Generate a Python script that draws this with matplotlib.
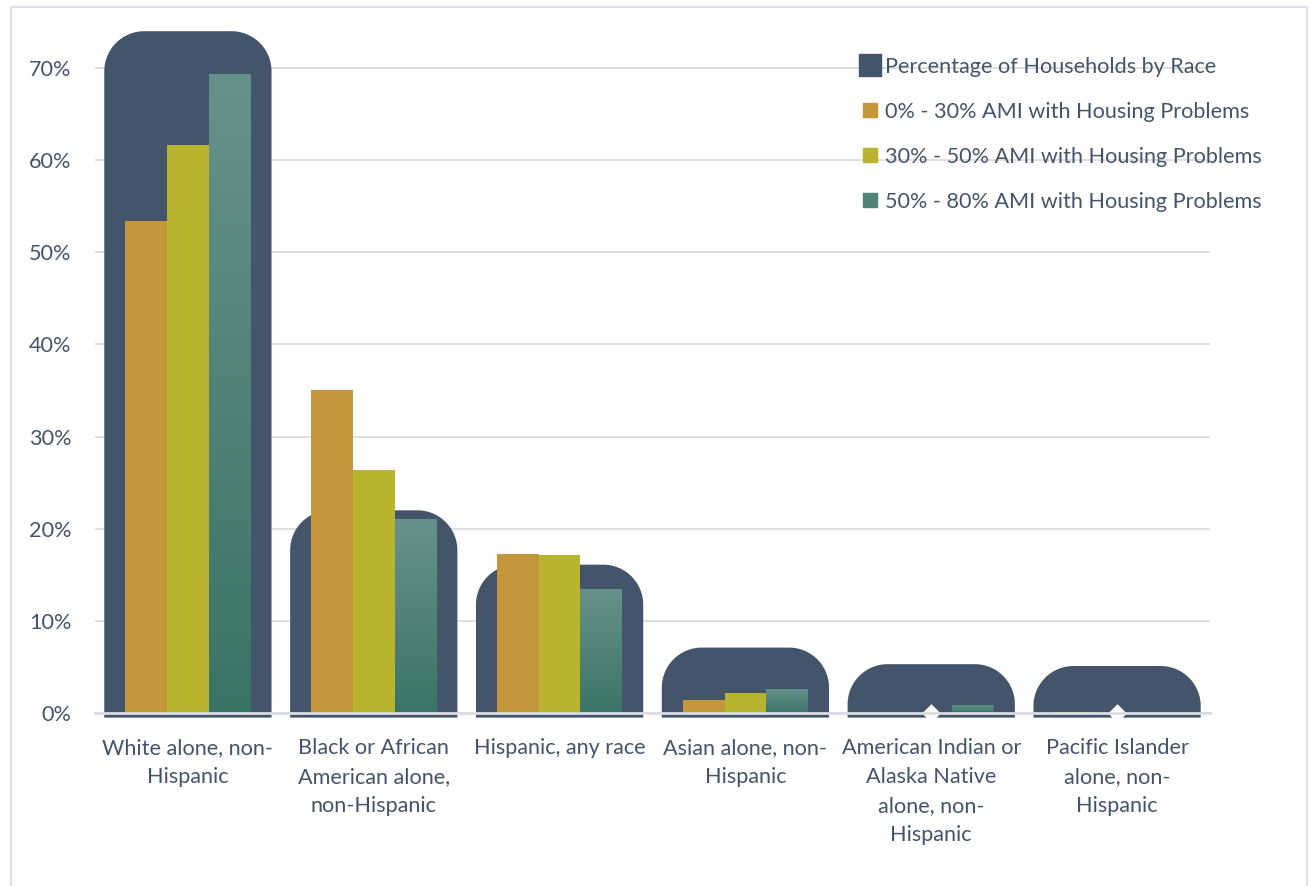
import numpy as np
import matplotlib.pyplot as plt
from matplotlib.patches import Polygon, Rectangle
from matplotlib.lines import Line2D
from matplotlib.colors import LinearSegmentedColormap

plt.rcParams['font.family'] = ['Lato', 'DejaVu Sans']

# Households with housing problems by race (percent)
races = ["White alone, non-\nHispanic",
         "Black or African\nAmerican alone,\nnon-Hispanic",
         "Hispanic, any race",
         "Asian alone, non-\nHispanic",
         "American Indian or\nAlaska Native\nalone, non-\nHispanic",
         "Pacific Islander\nalone, non-\nHispanic"]
share_households = [74.0, 22.0, 16.1, 7.1, 5.3, 5.1]
ami_0_30 = [53.4, 35.1, 17.3, 1.4, 0.0, 0.1]
ami_30_50 = [61.6, 26.4, 17.2, 2.2, 0.0, 0.0]
ami_50_80 = [69.4, 21.1, 13.5, 2.6, 0.9, 0.0]
yticks = [0, 10, 20, 30, 40, 50, 60, 70]

c_bg = '#44546A'
c_orange = '#C4973C'
c_yellow = '#B9B42F'
c_teal_top = '#67928B'
c_teal_bot = '#3A7467'
c_text = '#44546A'
c_grid = '#D9D9D9'
fs = 15.6

W, H = 1309, 886
fig = plt.figure(figsize=(W / 100, H / 100), dpi=100)

# light frame around the chart area
fig.patches.append(Rectangle((11 / W, -0.01), (1307 - 11) / W, (H - 7) / H + 0.01,
                             transform=fig.transFigure, fill=False,
                             edgecolor='#DCE1EA', lw=1.5))

ax = fig.add_axes([95 / W, (H - 713) / H, 1115 / W, (713 - 22) / H])
ymax = 75
ax.set_xlim(-0.5, len(races) - 0.5)
ax.set_ylim(0, ymax)

x = np.arange(len(races))
px_x = 1115 / len(races)
px_y = (713 - 22) / ymax
rx = 40 / px_x
ry = 40 / px_y


def rounded_top(x0, x1, y0, y1, rx, ry, n=30):
    ry = min(ry, y1 - y0)
    t = np.linspace(0, np.pi / 2, n)
    left = np.column_stack([x0 + rx - rx * np.cos(t), y1 - ry + ry * np.sin(t)])
    right = np.column_stack([x1 - rx + rx * np.sin(t), y1 - ry + ry * np.cos(t)])
    pts = np.vstack([[x0, y0], left, right, [x1, y0]])
    return Polygon(pts, closed=True)


# wide rounded background shapes: share of all households
bg_w = 0.9
for xi, v in zip(x, share_households):
    p = rounded_top(xi - bg_w / 2, xi + bg_w / 2, -0.5, v, rx, ry)
    p.set_facecolor(c_bg)
    p.set_edgecolor('none')
    p.set_clip_on(False)
    p.set_zorder(1)
    ax.add_patch(p)

bw = 0.225
ax.bar(x - bw, ami_0_30, bw, color=c_orange, zorder=2)
ax.bar(x, ami_30_50, bw, color=c_yellow, zorder=2)
teal_bars = ax.bar(x + bw, ami_50_80, bw, color='none', zorder=2)

# vertical gradient inside each teal bar
teal_cmap = LinearSegmentedColormap.from_list('teal', [c_teal_bot, c_teal_top])
grad = np.linspace(0, 1, 256).reshape(-1, 1)
for rect, v in zip(teal_bars, ami_50_80):
    if v <= 0:
        continue
    x0 = rect.get_x()
    im = ax.imshow(grad, cmap=teal_cmap, origin='lower', aspect='auto',
                   extent=(x0, x0 + rect.get_width(), 0, v), zorder=2)
    im.set_clip_path(rect)

# small white markers where the 30-50% series is zero
zero_x = [xi for xi, v in zip(x, ami_30_50) if v == 0]
ax.scatter(zero_x, [0] * len(zero_x), marker='D', s=90, color='white',
           zorder=4, clip_on=False, linewidths=0)

ax.set_xlim(-0.5, len(races) - 0.5)
ax.set_ylim(0, ymax)

ax.set_yticks(yticks)
ax.set_yticklabels([f"{t}%" for t in yticks])
ax.yaxis.grid(True, color=c_grid, lw=1.2)
ax.set_axisbelow(True)
ax.tick_params(axis='y', length=0, pad=17, labelsize=fs, labelcolor=c_text)
ax.set_xticks(x)
ax.set_xticklabels(races, linespacing=1.57)
ax.tick_params(axis='x', length=0, pad=18, labelsize=fs, labelcolor=c_text)

for s in ['top', 'right', 'left']:
    ax.spines[s].set_visible(False)
ax.spines['bottom'].set_color('#D9DDE3')
ax.spines['bottom'].set_linewidth(2)
ax.spines['bottom'].set_zorder(5)

handles = [
    Line2D([], [], ls='none', marker='s', markersize=16, markerfacecolor=c_bg,
           markeredgecolor=c_bg),
    Line2D([], [], ls='none', marker='s', markersize=10, markerfacecolor=c_orange,
           markeredgecolor=c_orange),
    Line2D([], [], ls='none', marker='s', markersize=10, markerfacecolor=c_yellow,
           markeredgecolor=c_yellow),
    Line2D([], [], ls='none', marker='s', markersize=10, markerfacecolor='#4F8479',
           markeredgecolor='#4F8479'),
]
labels = ["Percentage of Households by Race",
          "0% - 30% AMI with Housing Problems",
          "30% - 50% AMI with Housing Problems",
          "50% - 80% AMI with Housing Problems"]
leg = fig.legend(handles, labels, loc='upper left', bbox_to_anchor=(853 / W, 1 - 48 / H),
                 frameon=False, fontsize=fs, labelcolor=c_text, handlelength=0.8,
                 handletextpad=0.3, labelspacing=1.16, borderaxespad=0)

fig.savefig('out.png', dpi=100)
